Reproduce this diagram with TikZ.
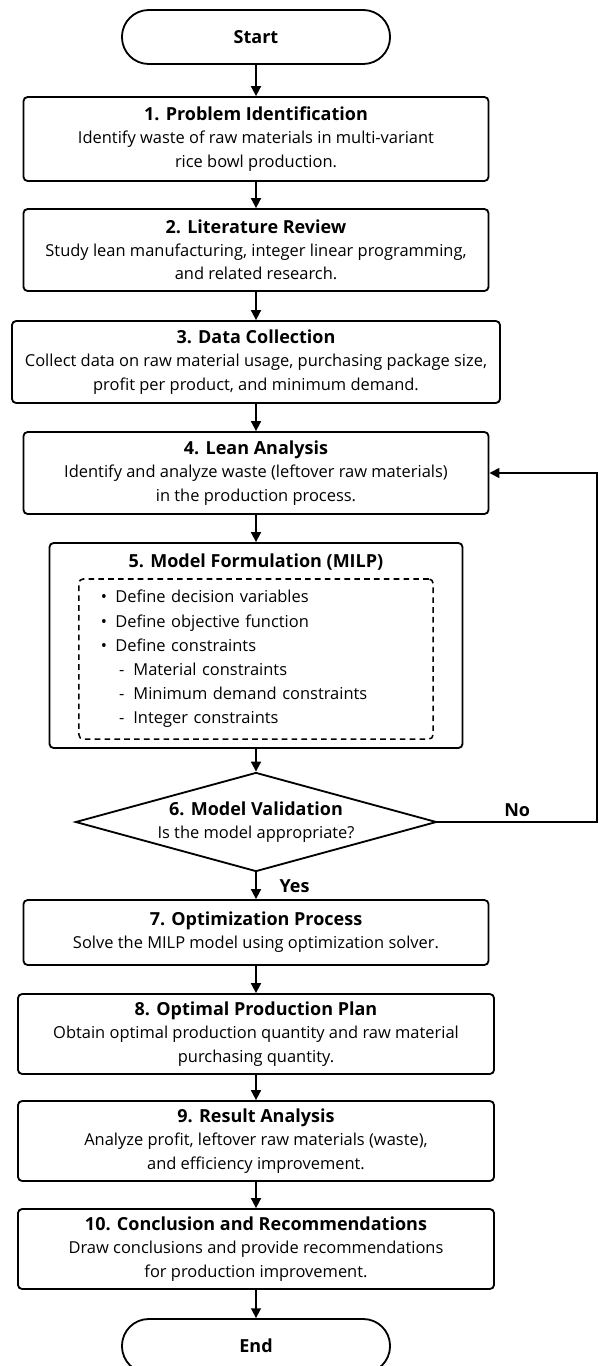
\documentclass[tikz,border=0pt]{standalone}
\usepackage{fontspec}
\setmainfont{Open Sans}
\usetikzlibrary{arrows.meta, positioning, shapes.geometric}

\newcommand{\steptitle}[1]{{\fontsize{12.8}{16.5}\selectfont\bfseries #1}}

\begin{document}
\begin{tikzpicture}[
    x=0.025cm, y=-0.025cm,
    >={Triangle[length=7pt, width=7pt]},
    line width=1.3pt,
    font=\fontsize{11.7}{16.5}\selectfont,
    stepbox/.style={draw, rounded corners=3pt, align=center, inner sep=0pt,
                    minimum width=11.625cm, minimum height=2.05cm},
    terminal/.style={draw, rounded corners=0.67cm, minimum width=6.7cm,
                     minimum height=1.35cm, font=\fontsize{12.8}{14}\selectfont\bfseries},
    decision/.style={draw, diamond, aspect=3.65, inner sep=0pt, align=center,
                     minimum width=9.025cm, minimum height=2.475cm},
    listbox/.style={draw, line width=1.1pt, dash pattern=on 4pt off 3pt,
                    rounded corners=3pt, align=left, text width=7.75cm,
                    inner xsep=0.55cm, minimum height=4cm,
                    font=\fontsize{11.7}{17.2}\selectfont},
    flow/.style={->},
    yesno/.style={font=\fontsize{12.8}{14}\selectfont\bfseries},
]

% page frame (keeps the reference margins)
\useasboundingbox (0,0) rectangle (600,1366);

% ============================================================
% TERMINALS AND STEPS
% ============================================================
\node[terminal] (start) at (256,37) {Start};

\node[stepbox, minimum height=2.1cm] (problem) at (256,139)
    {\steptitle{1. Problem Identification}\\
     Identify waste of raw materials in multi-variant\\
     rice bowl production.};

\node[stepbox] (review) at (256,250)
    {\steptitle{2. Literature Review}\\
     Study lean manufacturing, integer linear programming,\\
     and related research.};

\node[stepbox, minimum width=12.2cm] (data) at (256,362)
    {\steptitle{3. Data Collection}\\
     Collect data on raw material usage, purchasing package size,\\
     profit per product, and minimum demand.};

\node[stepbox] (lean) at (256,473)
    {\steptitle{4. Lean Analysis}\\
     Identify and analyze waste (leftover raw materials)\\
     in the production process.};

% step 5: outer box, title and dashed list
\node[stepbox, minimum width=10.325cm, minimum height=5.125cm] (model) at (256,645.5) {};
\node (modeltitle) at (256,562) {\steptitle{5. Model Formulation (MILP)}};
\node[listbox] (modellist) at (256,659)
    {\textbullet\hspace{0.5em}Define decision variables\\
     \textbullet\hspace{0.5em}Define objective function\\
     \textbullet\hspace{0.5em}Define constraints\\
     \hspace*{1.1em}-\hspace{0.55em}Material constraints\\
     \hspace*{1.1em}-\hspace{0.55em}Minimum demand constraints\\
     \hspace*{1.1em}-\hspace{0.55em}Integer constraints};

\node[decision] (valid) at (256,822)
    {\steptitle{6. Model Validation}\\
     Is the model appropriate?};

\node[stepbox, minimum height=1.625cm] (optim) at (256,932.5)
    {\steptitle{7. Optimization Process}\\
     Solve the MILP model using optimization solver.};

\node[stepbox, minimum width=11.9cm, minimum height=2cm] (plan) at (256,1034)
    {\steptitle{8. Optimal Production Plan}\\
     Obtain optimal production quantity and raw material\\
     purchasing quantity.};

\node[stepbox, minimum width=11.9cm, minimum height=2cm] (result) at (256,1141)
    {\steptitle{9. Result Analysis}\\
     Analyze profit, leftover raw materials (waste),\\
     and efficiency improvement.};

\node[stepbox, minimum width=11.9cm, minimum height=2cm] (concl) at (256,1249)
    {\steptitle{10. Conclusion and Recommendations}\\
     Draw conclusions and provide recommendations\\
     for production improvement.};

\node[terminal] (end) at (256,1346) {End};

% ============================================================
% CONNECTORS
% ============================================================
\foreach \from/\to in {start/problem, problem/review, review/data, data/lean,
                       lean/model, model/valid, optim/plan, plan/result,
                       result/concl, concl/end}
    \draw[flow] (\from) -- (\to);

\draw[flow] (valid) -- node[right=0.45cm, yesno] {Yes} (optim);

% feedback loop back to the lean analysis
\coordinate (loop) at (597,822);
\draw[flow] (valid.east) -- node[above, yesno] {No} (loop) |- (lean.east);

\end{tikzpicture}
\end{document}
